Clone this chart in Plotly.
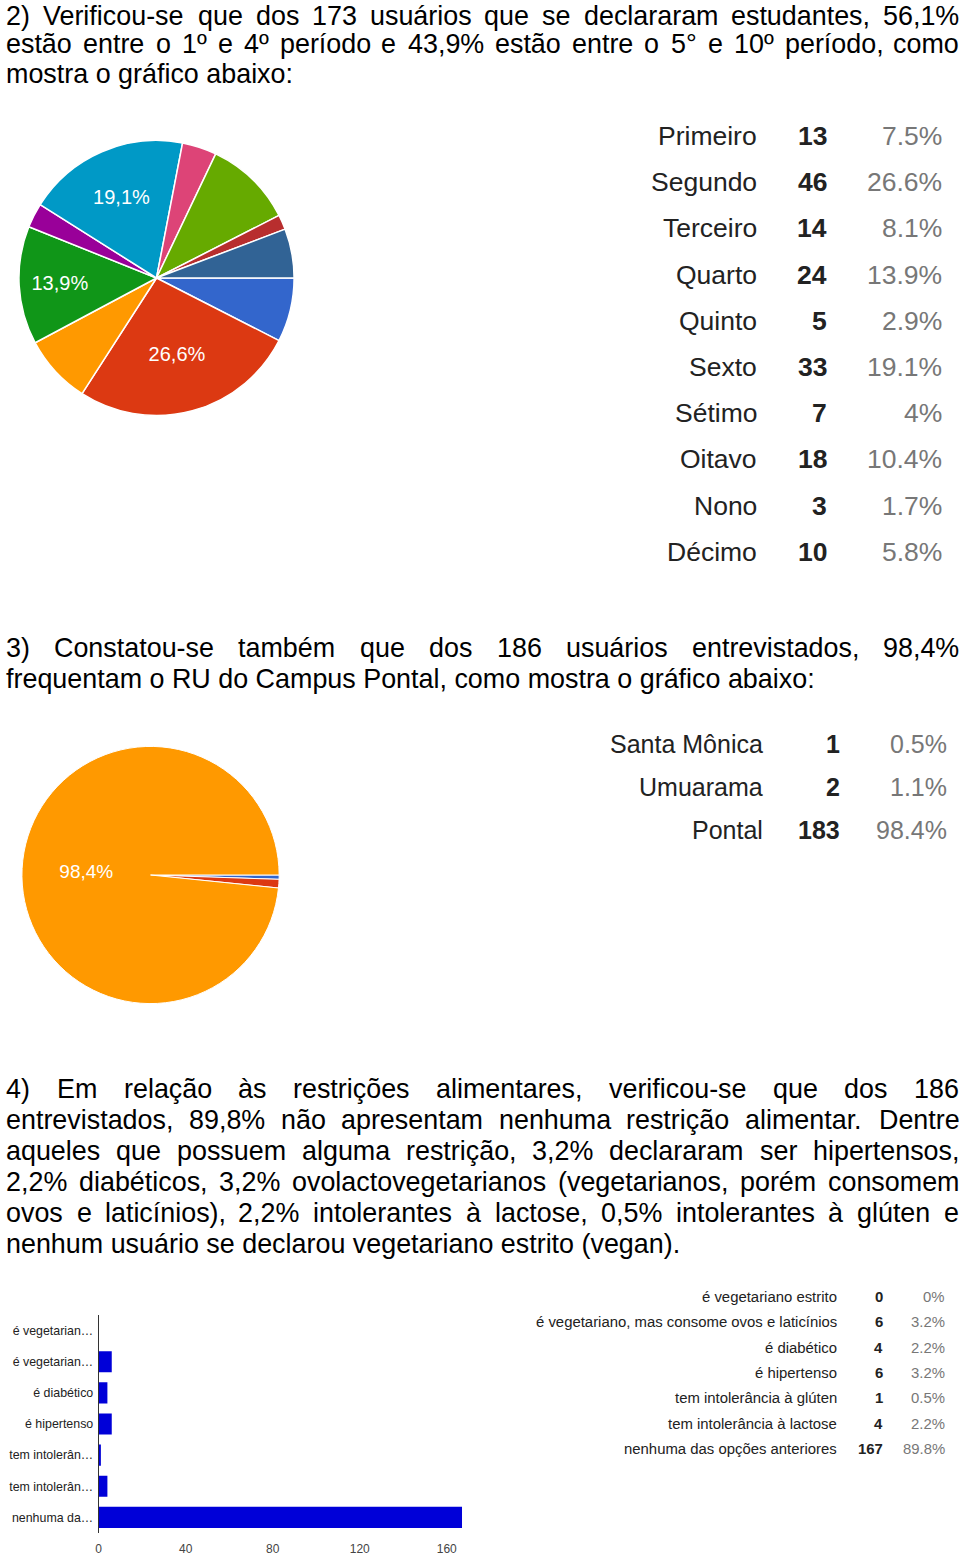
import plotly.graph_objects as go

# ---------------- data ----------------
periodos = ["Primeiro", "Segundo", "Terceiro", "Quarto", "Quinto",
            "Sexto", "Sétimo", "Oitavo", "Nono", "Décimo"]
periodos_n = [13, 46, 14, 24, 5, 33, 7, 18, 3, 10]
periodos_pct = ["7.5%", "26.6%", "8.1%", "13.9%", "2.9%",
                "19.1%", "4%", "10.4%", "1.7%", "5.8%"]

campus = ["Santa Mônica", "Umuarama", "Pontal"]
campus_n = [1, 2, 183]
campus_pct = ["0.5%", "1.1%", "98.4%"]

restricoes = ["é vegetariano estrito",
              "é vegetariano, mas consome ovos e laticínios",
              "é diabético", "é hipertenso",
              "tem intolerância à glúten", "tem intolerância à lactose",
              "nenhuma das opções anteriores"]
restricoes_n = [0, 6, 4, 6, 1, 4, 167]
restricoes_pct = ["0%", "3.2%", "2.2%", "3.2%", "0.5%", "2.2%", "89.8%"]
restricoes_tick = ["é vegetarian…", "é vegetarian…", "é diabético",
                   "é hipertenso", "tem intolerân…", "tem intolerân…",
                   "nenhuma da…"]
x_ticks = [0, 40, 80, 120, 160]

para2 = ["2) Verificou-se que dos 173 usuários que se declararam estudantes, 56,1%",
         "estão entre o 1º e 4º período e 43,9% estão entre o 5° e 10º período, como",
         "mostra o gráfico abaixo:"]
para3 = ["3) Constatou-se também que dos 186 usuários entrevistados, 98,4%",
         "frequentam o RU do Campus Pontal, como mostra o gráfico abaixo:"]
para4 = ["4) Em relação às restrições alimentares, verificou-se que dos 186",
         "entrevistados, 89,8% não apresentam nenhuma restrição alimentar. Dentre",
         "aqueles que possuem alguma restrição, 3,2% declararam ser hipertensos,",
         "2,2% diabéticos, 3,2% ovolactovegetarianos (vegetarianos, porém consomem",
         "ovos e laticínios), 2,2% intolerantes à lactose, 0,5% intolerantes à glúten e",
         "nenhum usuário se declarou vegetariano estrito (vegan)."]

# ---------------- helpers ----------------
W, H = 960, 1557
FONT = "Liberation Sans, Arial, sans-serif"

def px(x):
    return x / W

def py(y):
    return 1 - y / H

AFM = {' ': 278, '!': 278, '%': 889, '(': 333, ')': 333, ',': 278, '-': 333,
       '.': 278, ':': 278, ';': 278, 'º': 365, '°': 400,
       'A': 667, 'B': 667, 'C': 722, 'D': 722, 'E': 667, 'F': 611, 'G': 778,
       'H': 722, 'I': 278, 'J': 500, 'K': 667, 'L': 556, 'M': 833, 'N': 722,
       'O': 778, 'P': 667, 'Q': 778, 'R': 722, 'S': 667, 'T': 611, 'U': 722,
       'V': 667, 'W': 944, 'X': 667, 'Y': 667, 'Z': 611,
       'a': 556, 'b': 556, 'c': 500, 'd': 556, 'e': 556, 'f': 278, 'g': 556,
       'h': 556, 'i': 222, 'j': 222, 'k': 500, 'l': 222, 'm': 833, 'n': 556,
       'o': 556, 'p': 556, 'q': 556, 'r': 333, 's': 500, 't': 278, 'u': 556,
       'v': 500, 'w': 722, 'x': 500, 'y': 500, 'z': 500}
BASE = {'á': 'a', 'à': 'a', 'â': 'a', 'ã': 'a', 'é': 'e', 'ê': 'e', 'í': 'i',
        'ó': 'o', 'ô': 'o', 'õ': 'o', 'ú': 'u', 'ç': 'c', 'Ç': 'C', 'É': 'E'}

def text_width(s, size):
    tot = 0
    for ch in s:
        ch = BASE.get(ch, ch)
        tot += AFM.get(ch, 556)
    return tot * size / 1000.0

annotations = []

def paragraph(lines, ys, size=26.9, left=2, right=958):
    for k, line in enumerate(lines):
        y = ys[k]
        words = line.split()
        last = (k == len(lines) - 1)
        if last or len(words) < 2:
            annotations.append(dict(x=px(left), y=py(y), xref="paper", yref="paper",
                                    xanchor="left", yanchor="middle", showarrow=False,
                                    text=line, borderpad=0,
                                    font=dict(family=FONT, size=size, color="#000")))
            continue
        widths = [text_width(w, size) for w in words]
        gap = (right - left - sum(widths)) / (len(words) - 1)
        x = left
        for w, wd in zip(words, widths):
            annotations.append(dict(x=px(x), y=py(y), xref="paper", yref="paper",
                                    xanchor="left", yanchor="middle", showarrow=False,
                                    text=w, borderpad=0,
                                    font=dict(family=FONT, size=size, color="#000")))
            x += wd + gap

def table(labels, counts, pcts, ys, xl, xn, xp, size, label_color="#222"):
    for lab, n, p, y in zip(labels, counts, pcts, ys):
        annotations.append(dict(x=px(xl), y=py(y), xref="paper", yref="paper",
                                xanchor="right", yanchor="middle", showarrow=False,
                                text=lab, borderpad=0,
                                font=dict(family=FONT, size=size, color=label_color)))
        annotations.append(dict(x=px(xn), y=py(y), xref="paper", yref="paper",
                                xanchor="right", yanchor="middle", showarrow=False,
                                text="<b>%d</b>" % n, borderpad=0,
                                font=dict(family=FONT, size=size, color="#222")))
        annotations.append(dict(x=px(xp), y=py(y), xref="paper", yref="paper",
                                xanchor="right", yanchor="middle", showarrow=False,
                                text=p, borderpad=0,
                                font=dict(family=FONT, size=size, color="#777")))

def pie_labels(values, threshold=12.0):
    tot = float(sum(values))
    out = []
    for v in values:
        pct = v / tot * 100
        out.append(("%.1f%%" % pct).replace(".", ",") if pct >= threshold else "")
    return out

google = ["#3366cc", "#dc3912", "#ff9900", "#109618", "#990099",
          "#0099c6", "#dd4477", "#66aa00", "#b82e2e", "#316395"]

fig = go.Figure()

# ---------------- pie 1 ----------------
fig.add_trace(go.Pie(
    labels=periodos, values=periodos_n, sort=False, direction="clockwise",
    rotation=90, text=pie_labels(periodos_n), textinfo="text",
    textposition="inside", insidetextorientation="horizontal",
    textfont=dict(family=FONT, size=20, color="white"),
    marker=dict(colors=google, line=dict(color="white", width=1.5)),
    domain=dict(x=[px(16), px(292)], y=[py(416), py(140)]),
    showlegend=False, hoverinfo="label+value+percent"))

# ---------------- pie 2 ----------------
fig.add_trace(go.Pie(
    labels=campus, values=campus_n, sort=False, direction="clockwise",
    rotation=90, text=pie_labels(campus_n), textinfo="text",
    textposition="inside", insidetextorientation="horizontal",
    textfont=dict(family=FONT, size=19, color="white"),
    marker=dict(colors=google[:3], line=dict(color="white", width=1)),
    domain=dict(x=[px(19), px(277)], y=[py(1004), py(746)]),
    showlegend=False, hoverinfo="label+value+percent"))

# ---------------- bar chart ----------------
fig.add_trace(go.Bar(
    y=restricoes, x=restricoes_n, orientation="h",
    marker=dict(color="#0000d8", line=dict(width=0)), width=0.68,
    showlegend=False, xaxis="x", yaxis="y"))

# ---------------- texts ----------------
paragraph(para2, [16, 44, 74])
paragraph(para3, [648, 679])
paragraph(para4, [1089 + 31 * i for i in range(6)])

table(periodos, periodos_n, periodos_pct,
      [136 + 46.2 * i for i in range(10)], 757, 828, 943, 26.5)
table(campus, campus_n, campus_pct,
      [744, 787, 830], 763, 841, 948, 25)
table(restricoes, restricoes_n, restricoes_pct,
      [1297 + 25.3 * i for i in range(7)], 838, 884, 946, 14.9)

fig.update_layout(
    width=W, height=H, margin=dict(l=0, r=0, t=0, b=0),
    paper_bgcolor="white", plot_bgcolor="white",
    font=dict(family=FONT),
    annotations=annotations,
    bargap=0.3,
    xaxis=dict(domain=[px(96), px(467)], range=[0, 170], tickvals=x_ticks,
               showgrid=False, zeroline=False, showline=False,
               ticks="outside", ticklen=5, tickcolor="white",
               tickfont=dict(family=FONT, size=12, color="#444"), fixedrange=True),
    yaxis=dict(domain=[py(1533), py(1315)], autorange="reversed",
               tickvals=restricoes, ticktext=restricoes_tick,
               showgrid=False, zeroline=False, showline=True, linecolor="#333",
               linewidth=1, ticks="outside", ticklen=2, tickcolor="white",
               tickfont=dict(family=FONT, size=12.4, color="#222"), fixedrange=True),
)

fig.write_html("out.html")
